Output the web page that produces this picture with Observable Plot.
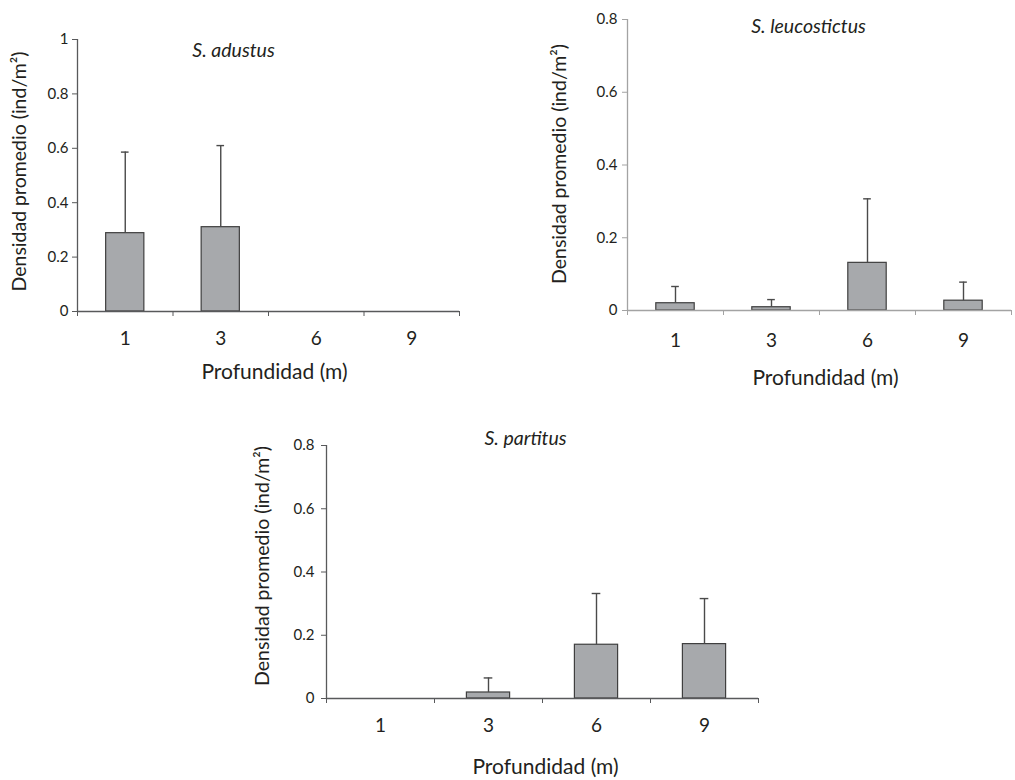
<!DOCTYPE html>
<html>
<head>
<meta charset="utf-8">
<script src="https://cdn.jsdelivr.net/npm/d3@7"></script>
<script src="https://cdn.jsdelivr.net/npm/@observablehq/plot@0.6"></script>
<style>
  body { margin: 0; background: #fff; }
  #wrap { position: relative; width: 1015px; height: 780px; }
  .p { position: absolute; }
  .p svg text { fill: #231f20; }
</style>
</head>
<body>
<div id="wrap"></div>
<script>
// ---- data ----
const depths = ["1", "3", "6", "9"];
const xTitle = "Profundidad (m)";
const yTitle = "Densidad promedio (ind/m²)";

const adustusMean = [0.288, 0.310, 0, 0];
const adustusSD   = [0.298, 0.300, 0, 0];

const leucoMean = [0.020, 0.009, 0.131, 0.027];
const leucoSD   = [0.046, 0.021, 0.176, 0.051];

const partitusMean = [0, 0.019, 0.170, 0.172];
const partitusSD   = [0, 0.046, 0.162, 0.144];

const yTicksA = [0, 0.2, 0.4, 0.6, 0.8, 1];
const yTicksB = [0, 0.2, 0.4, 0.6, 0.8];

// ---- panels ----
const panels = [
  {title: "S. adustus", means: adustusMean, sds: adustusSD, yTicks: yTicksA, yMax: 1,
   box: {left: 0, top: 0, width: 480, height: 390},
   m: {left: 77, right: 21, top: 39, bottom: 79}, axis: "#58595b",
   yl: {dx: -58, dy: -4}, xl: {dx: 6, dy: 61}, tt: {dx: -35, dy: 11}, pad: 20, ypad: 4},
  {title: "S. leucostictus", means: leucoMean, sds: leucoSD, yTicks: yTicksB, yMax: 0.8,
   box: {left: 520, top: 0, width: 495, height: 390},
   m: {left: 107, right: 4, top: 19, bottom: 80}, axis: "#a3a3a3",
   yl: {dx: -68, dy: -1}, xl: {dx: 6, dy: 68}, tt: {dx: -11, dy: 7}, pad: 23, ypad: 5},
  {title: "S. partitus", means: partitusMean, sds: partitusSD, yTicks: yTicksB, yMax: 0.8,
   box: {left: 230, top: 390, width: 560, height: 390},
   m: {left: 96, right: 32, top: 55, bottom: 82}, axis: "#58595b",
   yl: {dx: -64, dy: -6}, xl: {dx: 3, dy: 69}, tt: {dx: -17, dy: -7}, pad: 20, ypad: 7}
];

const wrap = document.getElementById("wrap");

for (const p of panels) {
  const rows = depths.map((d, i) => ({depth: d, i, mean: p.means[i], sd: p.sds[i]}))
                     .filter(r => r.mean > 0);
  const chart = Plot.plot({
    width: p.box.width,
    height: p.box.height,
    marginLeft: p.m.left, marginRight: p.m.right, marginTop: p.m.top, marginBottom: p.m.bottom,
    style: {fontFamily: "Lato, 'Open Sans', sans-serif", background: "transparent", overflow: "visible"},
    x: {domain: [0, depths.length], axis: null},
    y: {domain: [0, p.yMax], axis: null},
    marks: [
      // bars
      Plot.rectY(rows, {x1: r => r.i + 0.3, x2: r => r.i + 0.7, y1: 0, y2: "mean",
                        fill: "#a7a9ac", stroke: "#3f3f3f", strokeWidth: 1.2}),
      // error bars
      Plot.ruleX(rows, {x: r => r.i + 0.5, y1: "mean", y2: r => r.mean + r.sd,
                        stroke: "#4a4a4a", strokeWidth: 1.4}),
      Plot.ruleY(rows, {y: r => r.mean + r.sd, x1: r => r.i + 0.46, x2: r => r.i + 0.54,
                        stroke: "#4a4a4a", strokeWidth: 1.4}),
      // axis lines
      Plot.ruleY([0], {stroke: p.axis, strokeWidth: 1.3}),
      Plot.ruleX([0], {y1: 0, y2: p.yMax, stroke: p.axis, strokeWidth: 1.3}),
      // y axis ticks + labels
      Plot.axisY({ticks: p.yTicks, tickSize: 5, tickPadding: p.ypad, tickFormat: d => String(d),
                  stroke: p.axis, fontSize: 15, label: null}),
      // x boundary ticks
      Plot.axisX({ticks: d3.range(depths.length + 1), tickSize: 5, tickFormat: () => "",
                  stroke: p.axis, label: null}),
      // x category labels
      Plot.axisX({ticks: depths.map((_, i) => i + 0.5), tickSize: 0, tickPadding: p.pad,
                  tickFormat: d => depths[Math.floor(d)], fontSize: 19, label: null}),
      // axis titles
      Plot.text([yTitle], {frameAnchor: "left", rotate: -90, dx: p.yl.dx, dy: p.yl.dy,
                           fontSize: 19.5, textAnchor: "middle", lineAnchor: "middle"}),
      Plot.text([xTitle], {frameAnchor: "bottom", dx: p.xl.dx, dy: p.xl.dy,
                           fontSize: 21, textAnchor: "middle", lineAnchor: "middle"}),
      // species title
      Plot.text([p.title], {frameAnchor: "top", dx: p.tt.dx, dy: p.tt.dy, fontSize: 19.5,
                            fontStyle: "italic", textAnchor: "middle", lineAnchor: "middle"})
    ]
  });
  const holder = document.createElement("div");
  holder.className = "p";
  holder.style.left = p.box.left + "px";
  holder.style.top = p.box.top + "px";
  holder.appendChild(chart);
  wrap.appendChild(holder);
}
</script>
</body>
</html>
